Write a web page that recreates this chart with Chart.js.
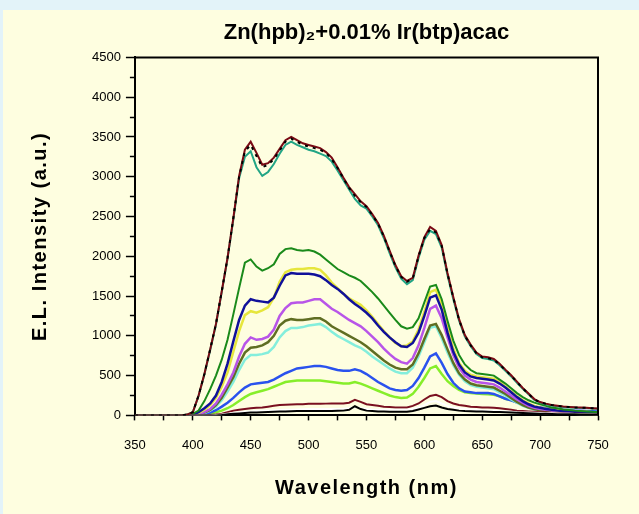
<!DOCTYPE html>
<html>
<head>
<meta charset="utf-8">
<title>Zn(hpb)2 EL spectra</title>
<script src="https://cdn.jsdelivr.net/npm/chart.js@4.4.0/dist/chart.umd.min.js"></script>
<style>
  html, body { margin: 0; padding: 0; background: #e3f3f9; }
  #panel { position: absolute; left: 3px; top: 10px; width: 636px; height: 504px; background: #fefee0; }
  canvas { display: block; }
</style>
</head>
<body>
<div id="panel"><canvas id="elChart" width="636" height="504"></canvas></div>
<script>
// wavelength grid (nm)
const wavelengths = [
  350, 355, 360, 365, 370, 375, 380, 385, 390, 395,
  400, 405, 410, 415, 420, 425, 430, 435, 440, 445,
  450, 455, 460, 465, 470, 475, 480, 485, 490, 495,
  500, 505, 510, 515, 520, 525, 530, 535, 540, 545,
  550, 555, 560, 565, 570, 575, 580, 585, 590, 595,
  600, 605, 610, 615, 620, 625, 630, 635, 640, 645,
  650, 655, 660, 665, 670, 675, 680, 685, 690, 695,
  700, 705, 710, 715, 720, 725, 730, 735, 740, 745,
  750
];

// EL intensity (a.u.) per drive level
const topBlack = [
  0, 0, 0, 0, 0, 0, 0, 0, 0, 10,
  40, 250, 520, 830, 1150, 1560, 1980, 2480, 3000, 3320,
  3400, 3260, 3120, 3150, 3220, 3330, 3440, 3480, 3440, 3400,
  3380, 3360, 3340, 3300, 3220, 3110, 2980, 2860, 2760, 2680,
  2620, 2520, 2410, 2250, 2060, 1880, 1740, 1680, 1720, 2000,
  2230, 2340, 2300, 2130, 1780, 1480, 1200, 1000, 880, 780,
  730, 720, 700, 640, 570, 500, 420, 340, 270, 200,
  165, 145, 130, 120, 110, 105, 100, 98, 95, 90,
  85
];
const topMaroon = [
  0, 0, 0, 0, 0, 0, 0, 0, 0, 10,
  40, 250, 520, 830, 1150, 1560, 1980, 2480, 3010, 3340,
  3440, 3300, 3150, 3170, 3240, 3350, 3460, 3500, 3460, 3420,
  3400, 3380, 3360, 3310, 3240, 3120, 2990, 2870, 2780, 2690,
  2630, 2530, 2420, 2260, 2070, 1890, 1750, 1690, 1730, 2010,
  2240, 2370, 2320, 2140, 1790, 1490, 1210, 1010, 890, 790,
  740, 730, 710, 650, 575, 505, 425, 345, 275, 205,
  168, 148, 132, 122, 112, 106, 101, 99, 96, 91,
  86
];
const topTeal = [
  0, 0, 0, 0, 0, 0, 0, 0, 0, 10,
  40, 245, 515, 820, 1140, 1550, 1970, 2460, 2980, 3250,
  3320, 3120, 3010, 3060, 3160, 3290, 3400, 3440, 3400, 3370,
  3340, 3320, 3290, 3260, 3190, 3080, 2960, 2840, 2720, 2640,
  2600, 2500, 2390, 2230, 2040, 1860, 1720, 1650, 1700, 1980,
  2210, 2320, 2280, 2110, 1760, 1460, 1190, 990, 870, 770,
  720, 710, 690, 630, 560, 490, 410, 335, 265, 195,
  160, 140, 125, 115, 105, 100, 96, 94, 92, 88,
  84
];
const green = [
  0, 0, 0, 0, 0, 0, 0, 0, 0, 5,
  20, 60, 180, 330, 500, 700, 950, 1270, 1600, 1920,
  1960, 1870, 1820, 1850, 1900, 2030, 2090, 2100, 2080, 2070,
  2080, 2060, 2020, 1960, 1900, 1840, 1800, 1760, 1730, 1690,
  1620, 1550, 1470, 1380, 1290, 1200, 1120, 1090, 1110, 1220,
  1420, 1620, 1640, 1460, 1190, 940, 760, 640, 570, 530,
  520, 510, 500, 450, 400, 340, 280, 230, 190, 160,
  140, 120, 100, 90, 75, 68, 60, 55, 50, 45,
  40
];
const yellow = [
  0, 0, 0, 0, 0, 0, 0, 0, 0, 0,
  10, 30, 70, 130, 220, 360, 540, 800, 1060, 1260,
  1310, 1290, 1320, 1360, 1480, 1680, 1800, 1830, 1840, 1840,
  1850, 1850, 1830, 1760, 1670, 1600, 1530, 1470, 1430, 1390,
  1320, 1240, 1150, 1060, 980, 910, 870, 880, 930, 1080,
  1300, 1550, 1580, 1400, 1100, 840, 660, 560, 510, 490,
  480, 470, 460, 420, 360, 300, 240, 190, 150, 120,
  100, 85, 75, 65, 60, 55, 50, 45, 45, 40,
  40
];
const navy = [
  0, 0, 0, 0, 0, 0, 0, 0, 0, 0,
  10, 40, 90, 150, 250, 420, 650, 930, 1200, 1380,
  1460, 1440, 1430, 1420, 1480, 1630, 1760, 1790, 1780, 1780,
  1780, 1770, 1750, 1700, 1640, 1590, 1530, 1460, 1400, 1350,
  1290, 1220, 1130, 1050, 980, 920, 870, 860, 910, 1040,
  1250, 1480, 1510, 1330, 1040, 800, 640, 540, 490, 470,
  460, 450, 440, 400, 350, 290, 230, 180, 140, 110,
  95, 80, 70, 60, 55, 50, 45, 42, 40, 38,
  35
];
const magenta = [
  0, 0, 0, 0, 0, 0, 0, 0, 0, 0,
  5, 15, 40, 80, 150, 260, 390, 540, 740, 900,
  980, 950, 960, 990, 1080, 1250, 1350, 1410, 1420, 1420,
  1440, 1460, 1460, 1400, 1340, 1300, 1250, 1200, 1160, 1120,
  1060, 990, 920, 840, 770, 710, 670, 650, 720, 880,
  1100, 1340, 1380, 1220, 980, 760, 600, 500, 450, 420,
  410, 400, 390, 350, 300, 250, 200, 160, 120, 95,
  80, 70, 60, 55, 50, 45, 40, 38, 35, 32,
  30
];
const olive = [
  0, 0, 0, 0, 0, 0, 0, 0, 0, 0,
  5, 15, 35, 70, 130, 220, 350, 480, 650, 790,
  850, 860, 880, 920, 1000, 1130, 1190, 1210, 1200, 1200,
  1210, 1220, 1220, 1180, 1120, 1080, 1040, 1000, 960, 920,
  870, 810, 750, 690, 640, 600, 580, 580, 640, 780,
  960, 1130, 1150, 1010, 830, 660, 530, 450, 400, 380,
  370, 360, 350, 310, 270, 220, 170, 130, 100, 80,
  65, 55, 50, 45, 40, 38, 35, 32, 30, 28,
  25
];
const cyan = [
  0, 0, 0, 0, 0, 0, 0, 0, 0, 0,
  5, 12, 30, 60, 110, 190, 300, 420, 570, 700,
  760, 760, 770, 790, 860, 980, 1060, 1100, 1100, 1110,
  1130, 1140, 1150, 1110, 1050, 1000, 960, 920, 880, 850,
  800, 740, 690, 640, 590, 550, 530, 530, 600, 740,
  920, 1100, 1120, 970, 790, 630, 510, 430, 380, 360,
  350, 340, 330, 290, 250, 200, 160, 120, 95, 75,
  60, 50, 45, 40, 38, 35, 32, 30, 28, 26,
  25
];
const blue = [
  0, 0, 0, 0, 0, 0, 0, 0, 0, 0,
  0, 5, 15, 35, 65, 110, 160, 220, 290, 350,
  390, 400, 410, 420, 450, 490, 530, 560, 590, 600,
  610, 620, 620, 610, 590, 570, 560, 560, 580, 560,
  520, 470, 420, 380, 340, 320, 310, 320, 370, 470,
  600, 740, 780, 660, 520, 410, 340, 300, 290, 280,
  280, 280, 270, 240, 210, 190, 160, 140, 120, 110,
  100, 90, 80, 75, 70, 65, 60, 58, 55, 52,
  50
];
const lime = [
  0, 0, 0, 0, 0, 0, 0, 0, 0, 0,
  0, 0, 10, 20, 40, 60, 90, 130, 180, 230,
  270, 290, 310, 330, 360, 390, 420, 430, 440, 440,
  440, 440, 440, 430, 420, 410, 400, 400, 420, 400,
  370, 340, 310, 280, 250, 230, 220, 225, 270, 360,
  470, 590, 620, 520, 430, 370, 320, 290, 280, 275,
  270, 265, 260, 240, 210, 190, 170, 150, 130, 110,
  90, 80, 65, 60, 55, 52, 50, 48, 45, 42,
  40
];
const maroon = [
  0, 0, 0, 0, 0, 0, 0, 0, 0, 0,
  0, 0, 0, 5, 10, 20, 40, 60, 70, 80,
  90, 95, 100, 110, 120, 130, 135, 138, 140, 140,
  145, 145, 145, 148, 150, 150, 150, 160, 195, 170,
  140, 130, 120, 110, 105, 100, 100, 100, 120, 150,
  200, 245, 260, 230, 180, 150, 130, 120, 110, 105,
  100, 98, 95, 90, 80, 70, 60, 55, 50, 45,
  40, 35, 30, 28, 25, 22, 20, 20, 18, 16,
  15
];
const white = [
  0, 0, 0, 0, 0, 0, 0, 0, 0, 0,
  0, 0, 0, 0, 5, 10, 20, 30, 38, 45,
  50, 55, 60, 62, 65, 68, 70, 72, 75, 78,
  80, 80, 80, 80, 80, 82, 85, 90, 105, 90,
  80, 75, 72, 70, 70, 70, 70, 72, 80, 100,
  130, 170, 180, 150, 120, 100, 90, 80, 75, 70,
  65, 62, 60, 55, 50, 45, 40, 38, 35, 32,
  30, 28, 26, 24, 22, 20, 18, 16, 15, 14,
  12
];
const black = [
  0, 0, 0, 0, 0, 0, 0, 0, 0, 0,
  0, 0, 0, 0, 0, 5, 15, 20, 25, 30,
  35, 38, 40, 42, 45, 48, 50, 52, 54, 55,
  55, 55, 55, 55, 55, 58, 60, 70, 115, 80,
  60, 55, 50, 48, 46, 45, 45, 45, 55, 75,
  95, 115, 125, 100, 80, 70, 60, 55, 52, 50,
  48, 46, 44, 42, 40, 36, 33, 30, 28, 25,
  22, 20, 18, 16, 15, 14, 13, 12, 11, 10,
  10
];

const chartTitle = 'Zn(hpb)\u2082+0.01% Ir(btp)acac';
const xTitle = 'Wavelength (nm)';
const yTitle = 'E.L. Intensity (a.u.)';

// first entry is drawn on top
const seriesList = [
  { data: topBlack, color: '#000000', width: 2, dash: [3, 5] },
  { data: topMaroon, color: '#7a0a14', width: 2 },
  { data: topTeal, color: '#22a585', width: 2 },
  { data: black, color: '#000000', width: 2 },
  { data: white, color: '#ffffff', width: 2 },
  { data: maroon, color: '#7a1020', width: 2 },
  { data: green, color: '#1a8a1a', width: 2 },
  { data: navy, color: '#10109a', width: 2.5 },
  { data: yellow, color: '#e6e63c', width: 2.5 },
  { data: magenta, color: '#b855e8', width: 2.5 },
  { data: olive, color: '#5f6e22', width: 2.5 },
  { data: cyan, color: '#84eedc', width: 2.5 },
  { data: blue, color: '#2a52ee', width: 2.5 },
  { data: lime, color: '#86ee2a', width: 2.5 },
];

const FONT = '"Liberation Sans", Arial, Helvetica, sans-serif';

// frame on top and right, plus spaced axis titles
const framePlugin = {
  id: 'frame',
  afterDraw(chart) {
    const { ctx, chartArea: a } = chart;
    ctx.save();
    ctx.strokeStyle = '#000';
    ctx.lineWidth = 2;
    ctx.beginPath();
    ctx.moveTo(a.left, a.top);
    ctx.lineTo(a.right, a.top);
    ctx.lineTo(a.right, a.bottom);
    ctx.stroke();

    ctx.fillStyle = '#000';
    ctx.font = 'bold 20px ' + FONT;
    ctx.letterSpacing = '1.5px';
    ctx.textAlign = 'center';
    ctx.textBaseline = 'middle';
    ctx.fillText(xTitle, (a.left + a.right) / 2, a.bottom + 73);
    ctx.translate(37, (a.top + a.bottom) / 2);
    ctx.rotate(-Math.PI / 2);
    ctx.fillText(yTitle, 0, 0);
    ctx.restore();
  }
};

new Chart(document.getElementById('elChart'), {
  type: 'line',
  data: {
    datasets: seriesList.map(s => ({
      data: s.data.map((v, i) => ({ x: wavelengths[i], y: v })),
      borderColor: s.color,
      borderWidth: s.width,
      borderDash: s.dash || [],
      pointRadius: 0,
      tension: 0,
      fill: false,
    })),
  },
  options: {
    responsive: false,
    animation: false,
    layout: { padding: { left: 84, right: 41, top: 0, bottom: 44 } },
    plugins: {
      legend: { display: false },
      tooltip: { enabled: false },
      title: {
        display: true,
        text: chartTitle,
        fullSize: false,
        color: '#000',
        font: { family: FONT, size: 22, weight: 'bold' },
        padding: { top: 10, bottom: 11 },
      },
    },
    scales: {
      x: {
        type: 'linear',
        min: 350,
        max: 750,
        grid: { drawOnChartArea: false, tickLength: 5, tickColor: '#000', tickWidth: 1.5 },
        border: { color: '#000', width: 2 },
        ticks: {
          stepSize: 25,
          autoSkip: false,
          maxRotation: 0,
          padding: 17,
          color: '#000',
          font: { family: FONT, size: 13 },
          callback: v => (v % 50 === 0 ? String(v) : ''),
        },
      },
      y: {
        min: 0,
        max: 4500,
        grid: {
          drawOnChartArea: false,
          tickLength: 9,
          tickColor: '#000',
          tickWidth: 1.5,
          tickBorderDash: ctx => (ctx.tick && ctx.tick.value % 500 !== 0 ? [0, 4, 5, 20] : []),
        },
        border: { color: '#000', width: 2 },
        ticks: {
          stepSize: 250,
          autoSkip: false,
          padding: 5,
          color: '#000',
          font: { family: FONT, size: 13 },
          callback: v => (v % 500 === 0 ? String(v) : ''),
        },
      },
    },
  },
  plugins: [framePlugin],
});
</script>
</body>
</html>
